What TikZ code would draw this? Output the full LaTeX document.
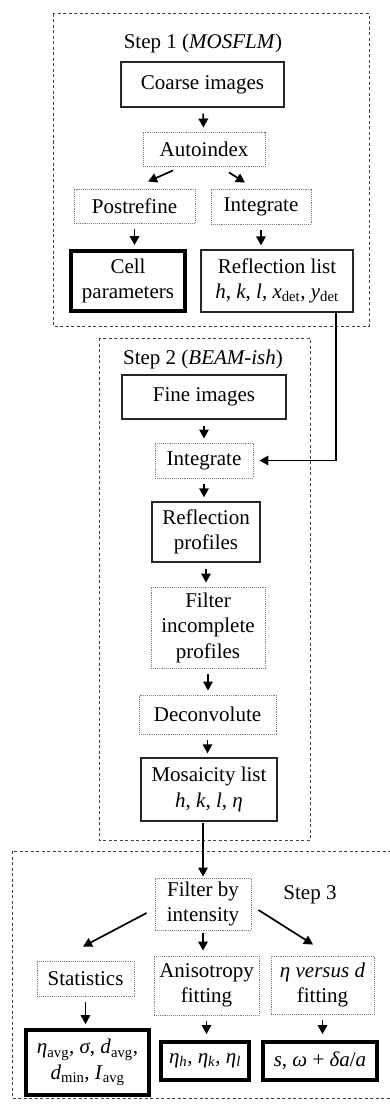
\documentclass[tikz,border=0pt]{standalone}
\usepackage{fontspec}
\setmainfont{Liberation Serif}
\usetikzlibrary{arrows.meta,calc}
\begin{document}
\begin{tikzpicture}[x=1pt,y=-1pt,
  font=\fontsize{21}{25.5}\selectfont,
  base/.style={inner sep=0pt,align=center,text=black},
  solidbox/.style={base,draw=black!85,line width=1.4pt},
  thickbox/.style={base,draw=black,line width=3.8pt},
  dotbox/.style={base,draw=black!50,densely dotted,line width=0.9pt},
  region/.style={draw=black!75,dash pattern=on 3pt off 2.5pt,line width=1pt},
  arr/.style={-{Triangle[length=9pt,width=9.5pt]},line width=1.7pt,draw=black,shorten <=6pt,shorten >=4pt},
  lbl/.style={inner sep=0pt,text=black}]
\useasboundingbox (0,0) rectangle (389,1105);
\fill[white] (0,0) rectangle (389,1105);

% regions
\draw[region] (53,14) rectangle (369,326);
\draw[region] (99,338) rectangle (310,840);
\draw[region] (12,851) rectangle (400,1098);

% Step 1
\node[lbl] (t1) at (203,43) {Step 1 (\textit{MOSFLM})};
\node[solidbox,minimum width=163,minimum height=45] (coarse) at (202.5,84.5) {Coarse images};
\node[dotbox,minimum width=122,minimum height=34] (auto) at (204,149) {Autoindex};
\node[dotbox,minimum width=121,minimum height=34] (post) at (134.5,206) {Postrefine};
\node[dotbox,minimum width=100,minimum height=35] (int1) at (261,206.5) {Integrate};
\node[thickbox,minimum width=114,minimum height=60] (cell) at (128,281) {Cell\\parameters};
\node[solidbox,minimum width=152,minimum height=62] (rl) at (277,281) {Reflection list\\\textit{h}, \textit{k}, \textit{l}, \textit{x}\textsubscript{det}, \textit{y}\textsubscript{det}};

% Step 2
\node[lbl] (t2) at (203,359) {Step 2 (\textit{BEAM-ish})};
\node[solidbox,minimum width=164,minimum height=44] (fine) at (204,397) {Fine images};
\node[dotbox,minimum width=98,minimum height=35] (int2) at (204,460.5) {Integrate};
\node[solidbox,minimum width=108,minimum height=60] (rp) at (206,532) {Reflection\\profiles};
\node[dotbox,minimum width=114,minimum height=81] (fip) at (208,627.5) {Filter\\incomplete\\profiles};
\node[dotbox,minimum width=137,minimum height=39] (dec) at (207.5,714.5) {Deconvolute};
\node[solidbox,minimum width=136,minimum height=63] (mos) at (209,789.5) {Mosaicity list\\\textit{h}, \textit{k}, \textit{l}, \textit{η}};

% Step 3
\node[lbl] (t3) at (310,895) {Step 3};
\node[dotbox,minimum width=96,minimum height=52] (filt) at (203,904) {Filter by\\intensity};
\node[dotbox,minimum width=97,minimum height=35] (stat) at (85.5,978.5) {Statistics};
\node[dotbox,minimum width=105,minimum height=59] (aniso) at (206.5,985.5) {Anisotropy\\fitting};
\node[dotbox,minimum width=103,minimum height=58] (evd) at (322.5,985) {\textit{η versus d}\\fitting};
\node[thickbox,minimum width=123,minimum height=65] (rstat) at (87.5,1062.5) {\textit{η}\textsubscript{avg}, \textit{σ}, \textit{d}\textsubscript{avg},\\\textit{d}\textsubscript{min}, \textit{I}\textsubscript{avg}};
\node[thickbox,minimum width=88,minimum height=38] (raniso) at (205,1061) {\textit{η}\textsubscript{\textit{h}}, \textit{η}\textsubscript{\textit{k}}, \textit{η}\textsubscript{\textit{l}}};
\node[thickbox,minimum width=114,minimum height=38] (revd) at (320,1061) {\textit{s}, \textit{ω} + \textit{δa}/\textit{a}};

% arrows step 1
\draw[arr] (coarse) -- (auto);
\draw[arr,shorten <=0pt,shorten >=0pt] ($(auto.south)+(-31,4)$) -- ($(post.north)+(13.5,-7)$);
\draw[arr,shorten <=0pt,shorten >=0pt] ($(auto.south)+(25,6)$) -- ($(int1.north)+(-16,-6)$);
\draw[arr] (post) -- (post |- cell.north);
\draw[arr] (int1) -- (int1 |- rl.north);

% long connector
\draw[arr,shorten <=0pt,shorten >=6pt] ($(rl.south)+(59,0)$) |- (int2.east);

% arrows step 2
\draw[arr] (fine) -- (int2);
\draw[arr] (int2) -- (int2 |- rp.north);
\draw[arr] (rp) -- (rp |- fip.north);
\draw[arr] (fip) -- (fip |- dec.north);
\draw[arr] (dec) -- (dec |- mos.north);
\draw[arr,shorten <=1pt,shorten >=1pt] (filt.north |- mos.south) -- (filt.north);

% arrows step 3
\draw[arr,shorten <=0pt,shorten >=0pt] ($(filt.west)+(-8,9)$) -- ($(stat.north)+(-2.5,-14)$);
\draw[arr,shorten <=0pt,shorten >=0pt] ($(filt.east)+(7,6)$) -- ($(evd.north)+(-9.5,-11)$);
\draw[arr,shorten <=3pt,shorten >=5pt] (filt) -- (filt |- aniso.north);
\draw[arr] (stat) -- (stat |- rstat.north);
\draw[arr,shorten >=6pt] (aniso) -- (aniso |- raniso.north);
\draw[arr,shorten >=6pt] (evd) -- (evd |- revd.north);
\end{tikzpicture}
\end{document}
